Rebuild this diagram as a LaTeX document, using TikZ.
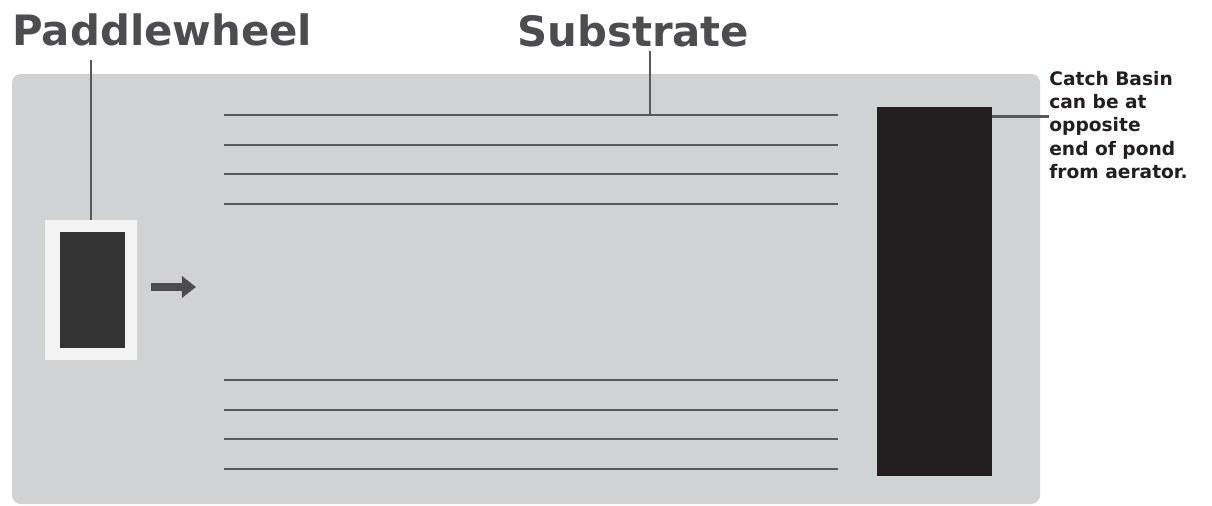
\documentclass[tikz,border=0pt]{standalone}
\usepackage{fontspec}
\setmainfont{DejaVu Sans}
\usetikzlibrary{arrows.meta}

\definecolor{pondgray}{HTML}{D1D2D4}
\definecolor{framewhite}{HTML}{F3F3F3}
\definecolor{wheeldark}{HTML}{333333}
\definecolor{basindark}{HTML}{231F20}
\definecolor{linegray}{HTML}{58595B}
\definecolor{labelgray}{HTML}{4D4D4F}

\tikzset{
  biglabel/.style={font=\fontsize{23.8}{26}\selectfont\bfseries, text=labelgray, inner sep=0pt},
  notelabel/.style={font=\fontsize{10.6}{13.2}\selectfont\bfseries, text=basindark, inner sep=0pt, align=left},
  leader/.style={draw=linegray, line width=1.5pt},
  substrate/.style={draw=linegray, line width=1.3pt},
  flow/.style={draw=labelgray, line width=4.5pt, -{Triangle[length=8pt,width=12pt]}}
}

\begin{document}
\begin{tikzpicture}[x=0.02cm, y=-0.02cm]
\useasboundingbox[fill=white] (0,0) rectangle (1212,506);

% pond
\fill[pondgray, rounded corners=5pt] (12,74) rectangle (1040,504);

% paddlewheel
\node[fill=framewhite, minimum width=1.84cm, minimum height=2.8cm, inner sep=0pt] (paddle) at (91,290) {};
\node[fill=wheeldark, minimum width=1.3cm, minimum height=2.32cm, inner sep=0pt] (wheel) at (92.5,290) {};
\coordinate (flowend) at (196,287);
\draw[flow] (151,287) -- (flowend);

% catch basin
\node[fill=basindark, minimum width=2.3cm, minimum height=7.38cm, inner sep=0pt] (basin) at (934.5,291.5) {};

% substrate strips
\foreach \y in {115,145,174,204,380,410,439,469}
  \draw[substrate] (224,\y) -- (838,\y);
\coordinate (subtop) at (650,115);

% labels
\node[biglabel, anchor=base west] (pwlabel) at (12,46) {Paddlewheel};
\node[biglabel, anchor=base west] (sublabel) at (517,47) {Substrate};
\node[notelabel, anchor=north west] (note) at (1049,71) {Catch Basin\\can be at\\opposite\\end of pond\\from aerator.};

\draw[leader] (paddle.north) -- (paddle.north |- 0,60);
\draw[leader] (subtop) -- (subtop |- 0,51);
\draw[leader] ([yshift=-0.2cm]basin.north east) -- ([yshift=-0.2cm]basin.north east -| note.west);
\end{tikzpicture}
\end{document}
